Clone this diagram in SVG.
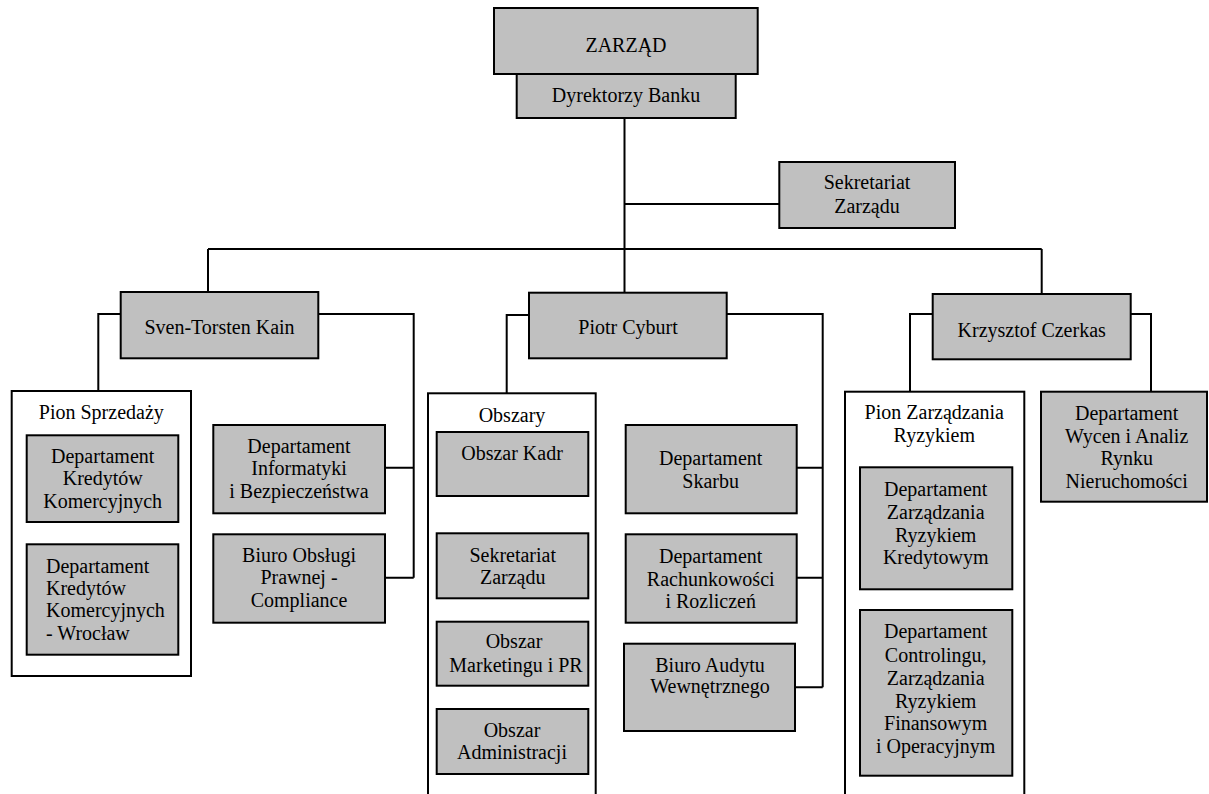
<svg xmlns="http://www.w3.org/2000/svg" width="1209" height="794" viewBox="0 0 1209 794">
<rect width="1209" height="794" fill="#fff"/>
<g id="connectors" fill="none" stroke="#000" stroke-width="2">
<path d="M624.5 118V292.7M624.5 204H779.3M208 249H1041.7M208 249V292M1041.7 249V294"/>
<path d="M120.7 314H98.3V391M318.3 314H413.7V577.7M385 467.7H413.7M385 577.7H413.7"/>
<path d="M529 315H506.7V393.3M726.7 314H822.7V687.3M796.7 467.7H822.7M796.7 577.7H822.7M795 687.3H822.7"/>
<path d="M932.7 314H910V391.7M1130.7 314H1151V391.7"/>
<path d="M516.7 496V533.3" stroke-dasharray="6,5"/>
</g>
<g id="nodes">
<g id="zarzad"><rect fill="#c0c0c0" stroke="#000" stroke-width="2" x="494" y="8" width="263.7" height="66"/><text font-family="Liberation Serif" font-size="20" text-anchor="middle" x="626" y="52.3">ZARZĄD</text></g>
<g id="dyrektorzy"><rect fill="#c0c0c0" stroke="#000" stroke-width="2" x="516.7" y="74" width="219" height="44"/><text font-family="Liberation Serif" font-size="20" text-anchor="middle" x="626" y="101.7">Dyrektorzy Banku</text></g>
<g id="sekretariat-top"><rect fill="#c0c0c0" stroke="#000" stroke-width="2" x="779.3" y="162" width="175.7" height="66"/><text font-family="Liberation Serif" font-size="20" text-anchor="middle" x="867" y="189.3">Sekretariat</text><text font-family="Liberation Serif" font-size="20" text-anchor="middle" x="867" y="213">Zarządu</text></g>
<g id="kain"><rect fill="#c0c0c0" stroke="#000" stroke-width="2" x="120.7" y="292" width="197.6" height="66.3"/><text font-family="Liberation Serif" font-size="20" text-anchor="middle" x="219.5" y="334.3">Sven-Torsten Kain</text></g>
<g id="cyburt"><rect fill="#c0c0c0" stroke="#000" stroke-width="2" x="529" y="292.7" width="197.7" height="65.6"/><text font-family="Liberation Serif" font-size="20" text-anchor="middle" x="628" y="334.3">Piotr Cyburt</text></g>
<g id="czerkas"><rect fill="#c0c0c0" stroke="#000" stroke-width="2" x="932.7" y="294" width="198" height="65.3"/><text font-family="Liberation Serif" font-size="20" text-anchor="middle" x="1031.7" y="337.3">Krzysztof Czerkas</text></g>
<g id="pion-sprzedazy"><rect fill="#fff" stroke="#000" stroke-width="2" x="11.7" y="391" width="179.3" height="285"/><text font-family="Liberation Serif" font-size="20" text-anchor="middle" x="101.3" y="419.3">Pion Sprzedaży</text></g>
<g id="dkk"><rect fill="#c0c0c0" stroke="#000" stroke-width="2" x="26.7" y="435.3" width="151.6" height="86.7"/><text font-family="Liberation Serif" font-size="20" text-anchor="middle" x="102.7" y="462.7">Departament</text><text font-family="Liberation Serif" font-size="20" text-anchor="middle" x="102.7" y="485">Kredytów</text><text font-family="Liberation Serif" font-size="20" text-anchor="middle" x="102.7" y="507.7">Komercyjnych</text></g>
<g id="dkk-wroclaw"><rect fill="#c0c0c0" stroke="#000" stroke-width="2" x="26.7" y="544.3" width="151.6" height="110.4"/><text font-family="Liberation Serif" font-size="20" x="46" y="572.7">Departament</text><text font-family="Liberation Serif" font-size="20" x="46" y="595">Kredytów</text><text font-family="Liberation Serif" font-size="20" x="46" y="617.3">Komercyjnych</text><text font-family="Liberation Serif" font-size="20" x="46" y="640">- Wrocław</text></g>
<g id="informatyka"><rect fill="#c0c0c0" stroke="#000" stroke-width="2" x="213.3" y="425" width="171.7" height="88.3"/><text font-family="Liberation Serif" font-size="20" text-anchor="middle" x="299" y="452.7">Departament</text><text font-family="Liberation Serif" font-size="20" text-anchor="middle" x="299" y="475">Informatyki</text><text font-family="Liberation Serif" font-size="20" text-anchor="middle" x="299" y="497.7">i Bezpieczeństwa</text></g>
<g id="prawne"><rect fill="#c0c0c0" stroke="#000" stroke-width="2" x="213.3" y="534.3" width="171.7" height="88.4"/><text font-family="Liberation Serif" font-size="20" text-anchor="middle" x="299" y="561.7">Biuro Obsługi</text><text font-family="Liberation Serif" font-size="20" text-anchor="middle" x="299" y="584">Prawnej -</text><text font-family="Liberation Serif" font-size="20" text-anchor="middle" x="299" y="607.3">Compliance</text></g>
<g id="obszary"><rect fill="#fff" stroke="#000" stroke-width="2" x="428" y="393.3" width="167.7" height="410"/><text font-family="Liberation Serif" font-size="20" text-anchor="middle" x="512" y="421.7">Obszary</text></g>
<g id="kadry"><rect fill="#c0c0c0" stroke="#000" stroke-width="2" x="436.7" y="432" width="151.6" height="64"/><text font-family="Liberation Serif" font-size="20" text-anchor="middle" x="512" y="460">Obszar Kadr</text></g>
<g id="sekretariat-obszar"><rect fill="#c0c0c0" stroke="#000" stroke-width="2" x="436.7" y="533.3" width="151.6" height="65"/><text font-family="Liberation Serif" font-size="20" text-anchor="middle" x="512.7" y="561.7">Sekretariat</text><text font-family="Liberation Serif" font-size="20" text-anchor="middle" x="512.7" y="584">Zarządu</text></g>
<g id="marketing"><rect fill="#c0c0c0" stroke="#000" stroke-width="2" x="436.7" y="621.7" width="151.6" height="64"/><text font-family="Liberation Serif" font-size="20" text-anchor="middle" x="514" y="648.3">Obszar</text><text font-family="Liberation Serif" font-size="20" text-anchor="middle" x="516" y="672.3">Marketingu i PR</text></g>
<g id="administracja"><rect fill="#c0c0c0" stroke="#000" stroke-width="2" x="436.7" y="709" width="151.6" height="65"/><text font-family="Liberation Serif" font-size="20" text-anchor="middle" x="512" y="736.7">Obszar</text><text font-family="Liberation Serif" font-size="20" text-anchor="middle" x="512" y="759.3">Administracji</text></g>
<g id="skarb"><rect fill="#c0c0c0" stroke="#000" stroke-width="2" x="625.7" y="425" width="171" height="88.3"/><text font-family="Liberation Serif" font-size="20" text-anchor="middle" x="710.7" y="465">Departament</text><text font-family="Liberation Serif" font-size="20" text-anchor="middle" x="710.7" y="488.3">Skarbu</text></g>
<g id="rachunkowosc"><rect fill="#c0c0c0" stroke="#000" stroke-width="2" x="625.7" y="534.3" width="171" height="88.4"/><text font-family="Liberation Serif" font-size="20" text-anchor="middle" x="710.7" y="562.7">Departament</text><text font-family="Liberation Serif" font-size="20" text-anchor="middle" x="710.7" y="585.7">Rachunkowości</text><text font-family="Liberation Serif" font-size="20" text-anchor="middle" x="710.7" y="608.3">i Rozliczeń</text></g>
<g id="audyt"><rect fill="#c0c0c0" stroke="#000" stroke-width="2" x="624" y="643.7" width="171" height="87.3"/><text font-family="Liberation Serif" font-size="20" text-anchor="middle" x="710" y="671.7">Biuro Audytu</text><text font-family="Liberation Serif" font-size="20" text-anchor="middle" x="710" y="693.3">Wewnętrznego</text></g>
<g id="pion-ryzyka"><rect fill="#fff" stroke="#000" stroke-width="2" x="845" y="391.7" width="179.3" height="410"/><text font-family="Liberation Serif" font-size="20" text-anchor="middle" x="934.3" y="419.3">Pion Zarządzania</text><text font-family="Liberation Serif" font-size="20" text-anchor="middle" x="934.3" y="442.3">Ryzykiem</text></g>
<g id="ryzyko-kredytowe"><rect fill="#c0c0c0" stroke="#000" stroke-width="2" x="860" y="467.3" width="152.3" height="122"/><text font-family="Liberation Serif" font-size="20" text-anchor="middle" x="935.7" y="496">Departament</text><text font-family="Liberation Serif" font-size="20" text-anchor="middle" x="935.7" y="518.7">Zarządzania</text><text font-family="Liberation Serif" font-size="20" text-anchor="middle" x="935.7" y="541.7">Ryzykiem</text><text font-family="Liberation Serif" font-size="20" text-anchor="middle" x="935.7" y="564">Kredytowym</text></g>
<g id="controling"><rect fill="#c0c0c0" stroke="#000" stroke-width="2" x="860" y="610" width="152.3" height="165.7"/><text font-family="Liberation Serif" font-size="20" text-anchor="middle" x="935.7" y="638.3">Departament</text><text font-family="Liberation Serif" font-size="20" text-anchor="middle" x="935.7" y="661.7">Controlingu,</text><text font-family="Liberation Serif" font-size="20" text-anchor="middle" x="935.7" y="685">Zarządzania</text><text font-family="Liberation Serif" font-size="20" text-anchor="middle" x="935.7" y="707.7">Ryzykiem</text><text font-family="Liberation Serif" font-size="20" text-anchor="middle" x="935.7" y="730">Finansowym</text><text font-family="Liberation Serif" font-size="20" text-anchor="middle" x="935.7" y="753.3">i Operacyjnym</text></g>
<g id="wyceny"><rect fill="#c0c0c0" stroke="#000" stroke-width="2" x="1041" y="391.7" width="166" height="110"/><text font-family="Liberation Serif" font-size="20" text-anchor="middle" x="1126.7" y="420">Departament</text><text font-family="Liberation Serif" font-size="20" text-anchor="middle" x="1126.7" y="442.7">Wycen i Analiz</text><text font-family="Liberation Serif" font-size="20" text-anchor="middle" x="1126.7" y="465">Rynku</text><text font-family="Liberation Serif" font-size="20" text-anchor="middle" x="1126.7" y="487.7">Nieruchomości</text></g>
</g>
</svg>
